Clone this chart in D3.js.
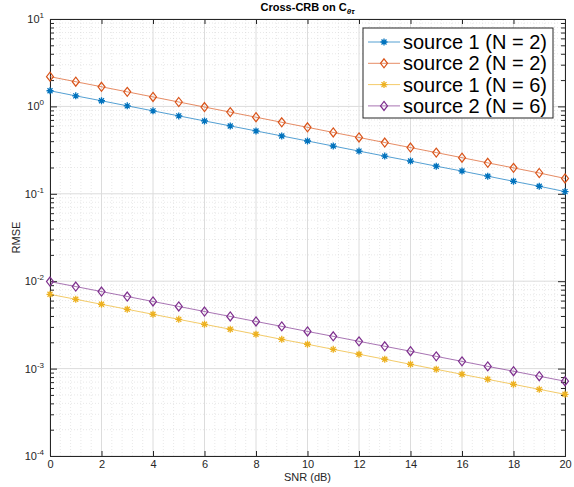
<!DOCTYPE html>
<html>
<head>
<meta charset="utf-8">
<script src="https://cdn.jsdelivr.net/npm/d3@7"></script>
<style>
  body { margin: 0; background: #fff; }
  svg { font-family: "Liberation Sans", Arial, sans-serif; }
</style>
</head>
<body>
<div class="wrapper"></div>
<script>
let width = 574;
let height = 487;
let margin = {left: 50, right: 9, top: 19, bottom: 31};

// data
let snr = [0, 1, 2, 3, 4, 5, 6, 7, 8, 9, 10, 11, 12, 13, 14, 15, 16, 17, 18, 19, 20];
let src1N2 = [1.51, 1.32, 1.16, 1.015, 0.889, 0.779, 0.682, 0.598, 0.524, 0.459, 0.402,
              0.352, 0.308, 0.270, 0.237, 0.207, 0.182, 0.159, 0.139, 0.122, 0.106];
let src2N2 = [2.19, 1.916, 1.677, 1.467, 1.284, 1.123, 0.983, 0.860, 0.752, 0.658, 0.576,
              0.504, 0.441, 0.386, 0.338, 0.296, 0.259, 0.226, 0.198, 0.173, 0.150];
let src1N6 = [7.08e-3, 6.21e-3, 5.44e-3, 4.77e-3, 4.18e-3, 3.66e-3, 3.21e-3, 2.82e-3, 2.47e-3, 2.16e-3, 1.90e-3,
              1.66e-3, 1.46e-3, 1.28e-3, 1.12e-3, 0.981e-3, 0.860e-3, 0.754e-3, 0.661e-3, 0.579e-3, 0.508e-3];
let src2N6 = [9.90e-3, 8.68e-3, 7.61e-3, 6.68e-3, 5.86e-3, 5.14e-3, 4.50e-3, 3.95e-3, 3.46e-3, 3.04e-3, 2.66e-3,
              2.34e-3, 2.05e-3, 1.80e-3, 1.58e-3, 1.38e-3, 1.21e-3, 1.06e-3, 0.933e-3, 0.818e-3, 0.717e-3];
let seriesNames = ["source 1 (N = 2)", "source 2 (N = 2)", "source 1 (N = 6)", "source 2 (N = 6)"];
let seriesColors = ["#0072BD", "#D95319", "#EDB120", "#7E2F8E"];
let seriesMarkers = ["star", "diamond", "star", "diamond"];
let xTicks = [0, 2, 4, 6, 8, 10, 12, 14, 16, 18, 20];
let yExponents = [-4, -3, -2, -1, 0, 1];

let series = [src1N2, src2N2, src1N6, src2N6].map((vals, i) => ({
    name: seriesNames[i],
    color: seriesColors[i],
    marker: seriesMarkers[i],
    points: vals.map((v, j) => ({x: snr[j], y: v}))
}));

let x = d3.scaleLinear().domain([0, 20]).range([margin.left, width - margin.right]);
let y = d3.scaleLog().domain([1e-4, 1e1]).range([height - margin.bottom, margin.top]);

let svg = d3.select(".wrapper")
    .append("svg")
    .attr("width", width)
    .attr("height", height);

let x0 = x.range()[0], x1 = x.range()[1];
let y0 = y.range()[0], y1 = y.range()[1];

// minor grid
let xMinor = d3.range(0, 20.001, 0.4).filter(v => Math.abs(v / 2 - Math.round(v / 2)) > 1e-6);
let yMinor = [];
for (let e = -4; e < 1; e++) for (let m = 2; m <= 9; m++) yMinor.push(m * Math.pow(10, e));

let grid = svg.append("g").classed("grid", true);
grid.selectAll(".xminor").data(xMinor).enter().append("line")
    .attr("x1", d => x(d)).attr("x2", d => x(d)).attr("y1", y0).attr("y2", y1)
    .attr("stroke", "#d8d8d8").attr("stroke-width", 0.6).attr("stroke-dasharray", "1,2");
grid.selectAll(".yminor").data(yMinor).enter().append("line")
    .attr("x1", x0).attr("x2", x1).attr("y1", d => y(d)).attr("y2", d => y(d))
    .attr("stroke", "#d8d8d8").attr("stroke-width", 0.6).attr("stroke-dasharray", "1,2");
grid.selectAll(".xmajor").data(xTicks).enter().append("line")
    .attr("x1", d => x(d)).attr("x2", d => x(d)).attr("y1", y0).attr("y2", y1)
    .attr("stroke", "#dcdcdc").attr("stroke-width", 1);
grid.selectAll(".ymajor").data(yExponents).enter().append("line")
    .attr("x1", x0).attr("x2", x1).attr("y1", d => y(Math.pow(10, d))).attr("y2", d => y(Math.pow(10, d)))
    .attr("stroke", "#dcdcdc").attr("stroke-width", 1);

// axes
let tickCol = "#262626";
let xb = svg.append("g").attr("transform", "translate(0," + y0 + ")")
    .call(d3.axisBottom(x).tickValues(xTicks).tickSize(-5).tickPadding(4).tickFormat(d3.format("d")));
let xt = svg.append("g").attr("transform", "translate(0," + y1 + ")")
    .call(d3.axisTop(x).tickValues(xTicks).tickSize(-5).tickFormat(""));
let yl = svg.append("g").attr("transform", "translate(" + x0 + ",0)")
    .call(d3.axisLeft(y).tickValues(yMinor).tickSize(-4).tickFormat(""));
let ylMaj = svg.append("g").attr("transform", "translate(" + x0 + ",0)")
    .call(d3.axisLeft(y).tickValues(yExponents.map(e => Math.pow(10, e))).tickSize(-7).tickFormat(""));
let yr = svg.append("g").attr("transform", "translate(" + x1 + ",0)")
    .call(d3.axisRight(y).tickValues(yMinor).tickSize(-4).tickFormat(""));
let yrMaj = svg.append("g").attr("transform", "translate(" + x1 + ",0)")
    .call(d3.axisRight(y).tickValues(yExponents.map(e => Math.pow(10, e))).tickSize(-7).tickFormat(""));

[xb, xt, yl, ylMaj, yr, yrMaj].forEach(g => {
    g.selectAll("path").attr("stroke", tickCol).attr("stroke-width", 1);
    g.selectAll("line").attr("stroke", tickCol).attr("stroke-width", 1);
});
xb.selectAll("text").attr("font-size", 11).attr("fill", tickCol);

// y tick labels 10^n
let yLab = svg.append("g");
yExponents.forEach(e => {
    let t = yLab.append("text")
        .attr("x", x0 - 6).attr("y", y(Math.pow(10, e)) + 4)
        .attr("text-anchor", "end").attr("font-size", 11).attr("fill", tickCol);
    t.append("tspan").text("10");
    t.append("tspan").attr("dy", -5).attr("font-size", 8).text(e);
});

// series
let line = d3.line().x(d => x(d.x)).y(d => y(d.y));
let starPath = "M-3.5,0L3.5,0M0,-3.5L0,3.5M-2.5,-2.5L2.5,2.5M-2.5,2.5L2.5,-2.5";
let diamondPath = "M0,-4.5L3.5,0L0,4.5L-3.5,0Z";

function drawMarker(g, type, color) {
    g.append("path")
        .attr("d", type === "star" ? starPath : diamondPath)
        .attr("fill", type === "star" ? "none" : "#fff")
        .attr("fill-opacity", 0)
        .attr("stroke", color)
        .attr("stroke-width", type === "star" ? 1.3 : 1.2);
}

series.forEach(s => {
    let g = svg.append("g").classed("series", true);
    g.append("path").datum(s.points)
        .attr("d", line)
        .attr("fill", "none")
        .attr("stroke", s.color)
        .attr("stroke-opacity", 0.75)
        .attr("stroke-width", 0.9);
    g.selectAll(".mk").data(s.points).enter().append("g")
        .attr("transform", d => "translate(" + x(d.x) + "," + y(d.y) + ")")
        .each(function () { drawMarker(d3.select(this), s.marker, s.color); });
});

// titles
let title = svg.append("text")
    .attr("x", (x0 + x1) / 2).attr("y", 11)
    .attr("text-anchor", "middle").attr("font-size", 11).attr("font-weight", "bold").attr("fill", "#000");
title.append("tspan").text("Cross-CRB on C");
title.append("tspan").attr("dy", 3).attr("font-size", 8).attr("font-style", "italic").text("θτ");

svg.append("text")
    .attr("x", (x0 + x1) / 2).attr("y", 481)
    .attr("text-anchor", "middle").attr("font-size", 11).attr("fill", tickCol)
    .text("SNR (dB)");

svg.append("text")
    .attr("transform", "translate(20," + ((y0 + y1) / 2) + ") rotate(-90)")
    .attr("text-anchor", "middle").attr("font-size", 11).attr("fill", tickCol)
    .text("RMSE");

// legend
let legend = svg.append("g").attr("transform", "translate(363,28)");
legend.append("rect")
    .attr("width", 190).attr("height", 90)
    .attr("fill", "#fff").attr("stroke", tickCol).attr("stroke-width", 1);
series.forEach((s, i) => {
    let ly = 14 + i * 21.3;
    let g = legend.append("g");
    g.append("line").attr("x1", 5).attr("x2", 37).attr("y1", ly).attr("y2", ly)
        .attr("stroke", s.color).attr("stroke-opacity", 0.75).attr("stroke-width", 0.9);
    let m = g.append("g").attr("transform", "translate(21," + ly + ")");
    drawMarker(m, s.marker, s.color);
    g.append("text").attr("x", 40).attr("y", ly + 7)
        .attr("font-size", 20).attr("fill", "#000").text(s.name);
});
</script>
</body>
</html>
